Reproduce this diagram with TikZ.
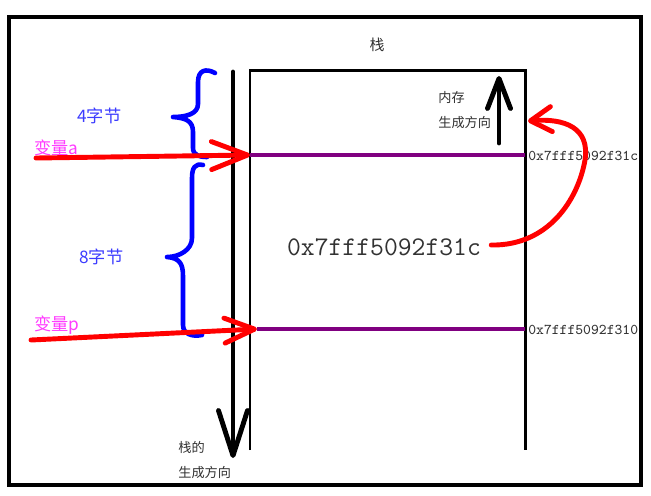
\documentclass[tikz,border=0pt]{standalone}
\usepackage{fontspec}
\newfontfamily\cjk{Noto Sans CJK SC}
\usetikzlibrary{arrows.meta}
\definecolor{pur}{RGB}{128,0,128}
\definecolor{txtgray}{RGB}{50,50,50}
\definecolor{bluetxt}{RGB}{60,60,255}
\definecolor{magtxt}{RGB}{255,60,255}
\tikzset{
  frame/.style={line width=2.3pt, black},
  boxline/.style={line width=1.7pt, black},
  purline/.style={line width=2.3pt, pur},
  redarrow/.style={line width=2.8pt, red, line cap=round, line join=round},
  blkarrow/.style={line width=2.8pt, black, line cap=round, line join=round},
  brace/.style={line width=2.6pt, blue, line cap=round, line join=round},
  cjklbl/.style={font=\cjk\fontsize{7.5}{9}\selectfont, text=txtgray, inner sep=0pt},
  bluelbl/.style={font=\cjk\fontsize{9.8}{11}\selectfont, text=bluetxt, inner sep=0pt, anchor=west},
  maglbl/.style={font=\cjk\fontsize{9.8}{11}\selectfont, text=magtxt, inner sep=0pt, anchor=west},
  addr/.style={font=\ttfamily\fontsize{8.5}{10}\selectfont, text=txtgray, inner sep=0pt, anchor=west},
}
\begin{document}
\begin{tikzpicture}[x=0.02cm, y=-0.02cm]
\useasboundingbox (0,0) rectangle (651,495);
\fill[white] (0,0) rectangle (651,495);
% outer frame
\draw[frame] (9,17) rectangle (641,485);
% inner stack box
\coordinate (bl) at (250,450);
\coordinate (tl) at (250,70);
\coordinate (tr) at (525,70);
\coordinate (br) at (525,450);
\draw[boxline] (bl) -- (tl) -- (tr) -- (br);
% title
\node[cjklbl, font=\cjk\fontsize{8.5}{10}\selectfont] (title) at (377,45) {栈};
% purple lines
\coordinate (pa1) at (250,155);
\coordinate (pa2) at (525,155);
\coordinate (pp1) at (257,329);
\coordinate (pp2) at (525,329);
\draw[purline] (pa1) -- (pa2);
\draw[purline] (pp1) -- (pp2);
% address labels
\node[addr] (addra) at (528,156) {0x7fff5092f31c};
\node[addr] (addrp) at (528,330) {0x7fff5092f310};
% big value
\node[font=\ttfamily\fontsize{15.3}{18}\selectfont, text=txtgray, inner sep=0pt] (val) at (384,247) {0x7fff5092f31c};
% stack growth arrow (down)
\coordinate (sgtop) at (233,72);
\coordinate (sgbot) at (233,458);
\draw[blkarrow, -{Straight Barb[length=0.9cm, width=0.58cm, line cap=round, line join=round]}] (sgtop) -- (sgbot);
\node[cjklbl, anchor=west] (sg1) at (178,447) {栈的};
\node[cjklbl, anchor=west] (sg2) at (178,472) {生成方向};
% memory growth arrow (up)
\coordinate (mgbot) at (499,143);
\coordinate (mgtop) at (499,76);
\draw[blkarrow, -{Straight Barb[length=0.6cm, width=0.46cm, line cap=round, line join=round]}] (mgbot) -- (mgtop);
\node[cjklbl, anchor=west] (mg1) at (438,97) {内存};
\node[cjklbl, anchor=west] (mg2) at (438,122) {生成方向};
% red curved arrow from value to above
\coordinate (cend) at (528,121);
\draw[redarrow, -{Straight Barb[length=0.42cm, width=0.5cm, line cap=round, line join=round]}]
  (val.east) ++(10,-2) coordinate (cs) (cs) .. controls (548,246) and (578,200) .. (585,160)
  .. controls (590,128) and (565,118) .. (cend);
% braces
\draw[brace] (215,73) .. controls (206,68) and (198,70) .. (198,82) -- (198,104)
  .. controls (198,114) and (186,117) .. (173,117)
  .. controls (186,118) and (193,121) .. (193,132) -- (193,148)
  .. controls (193,155) and (199,157) .. (207,157);
\draw[brace] (203,165) .. controls (195,163) and (192,168) .. (192,178) -- (192,238)
  .. controls (192,250) and (179,257) .. (167,257)
  .. controls (179,258) and (183,263) .. (183,276) -- (183,325)
  .. controls (183,334) and (192,337) .. (202,335);
\node[bluelbl] (b4) at (77,116) {4字节};
\node[bluelbl] (b8) at (79,257) {8字节};
% variables
\node[maglbl] (va) at (34,148) {变量a};
\node[maglbl] (vp) at (34,325) {变量p};
\coordinate (ra0) at (36,158);
\draw[redarrow, -{Straight Barb[length=0.72cm, width=0.56cm, line cap=round, line join=round]}] (ra0) -- (pa1);
\coordinate (rp0) at (31,340);
\draw[redarrow, -{Straight Barb[length=0.6cm, width=0.5cm, line cap=round, line join=round]}] (rp0) -- (pp1);
\end{tikzpicture}
\end{document}
